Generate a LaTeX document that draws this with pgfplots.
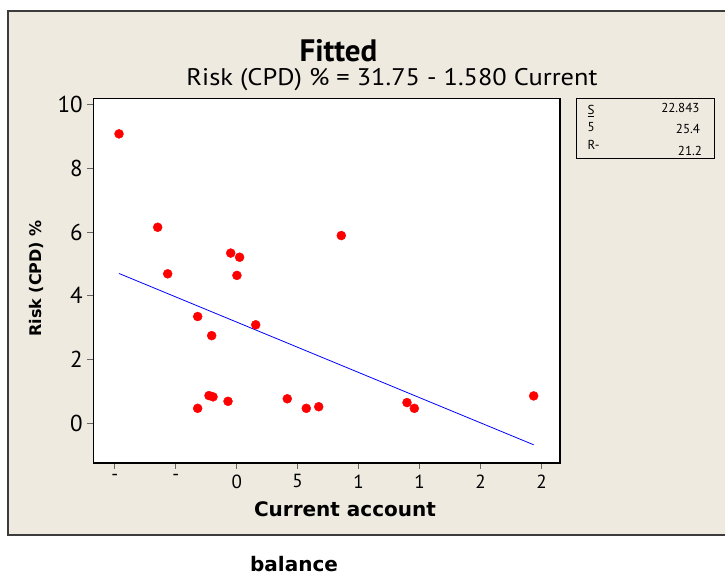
\documentclass[border=0pt]{standalone}
\usepackage{graphicx}
\usepackage{pgfplots}
\pgfplotsset{compat=1.18}
\usepackage{fontspec}
\setmainfont{DejaVu Sans}
\newfontfamily\pts{PT Sans}
\definecolor{bgbeige}{RGB}{238,234,224}
\definecolor{framegrey}{RGB}{60,60,60}
\begin{document}
\begin{tikzpicture}[x=1pt,y=1pt]
\path[use as bounding box] (0,0) rectangle (725,577);
\fill[white] (0,0) rectangle (725,577);
\fill[bgbeige] (7,41) rectangle (725,567);
\draw[framegrey,line width=1.8pt] (7.9,41.9) rectangle (727,566.1);
% titles
\node[font=\pts\bfseries\fontsize{31}{31}\selectfont,anchor=base,inner sep=1pt] at (338.5,515) {Fitted};
\node[font=\pts\fontsize{24}{24}\selectfont,anchor=base,inner sep=1pt] at (392,491) {\scalebox{1.1}[1]{Risk (CPD) \% = 31.75 - 1.580 Current}};
% stats box
\draw[black,line width=0.8pt] (576,419) rectangle (714,479);
\node[font=\pts\fontsize{13}{13}\selectfont,anchor=base west] at (584,462) {\underline{S}};
\node[font=\pts\fontsize{13}{13}\selectfont,anchor=base east] at (703,464) {22.843};
\node[font=\pts\fontsize{13}{13}\selectfont,anchor=base west] at (584,445) {5};
\node[font=\pts\fontsize{13}{13}\selectfont,anchor=base] at (688,443) {25.4};
\node[font=\pts\fontsize{13}{13}\selectfont,anchor=base west] at (584,427) {R-};
\node[font=\pts\fontsize{13}{13}\selectfont,anchor=base] at (690,421) {21.2};
% y label
\node[font=\bfseries\fontsize{16}{16}\selectfont,rotate=90,inner sep=0pt] at (36,298.5) {Risk (CPD) \%};
% x labels
\node[font=\bfseries\fontsize{20}{20}\selectfont,anchor=base] at (345,60) {Current account};
\node[font=\bfseries\fontsize{20}{20}\selectfont,anchor=base] at (294,5) {balance};
\begin{axis}[
  at={(93.3pt,114pt)}, anchor=south west,
  scale only axis, width=466.7pt, height=364.7pt,
  xmin=-11.76, xmax=26.52, ymin=-12.45, ymax=101.96,
  axis background/.style={fill=white},
  axis line style={black,line width=1.2pt},
  xtick={-10,-5,0,5,10,15,20,25},
  xticklabels={-,-,0,5,1,1,2,2},
  ytick={0,20,40,60,80,100},
  yticklabels={0,2,4,6,8,10},
  xtick pos=left, ytick pos=left,
  tick align=outside,
  major tick length=6pt,
  tick style={gray!80!black,line width=0.8pt},
  xticklabel style={font=\pts\fontsize{19}{19}\selectfont,yshift=-2pt},
  yticklabel style={font=\pts\fontsize{23}{23}\selectfont,xshift=-1pt},
  clip=false,
]
\addplot[only marks,mark=*,mark size=4.5pt,color=red,mark options={fill=red,draw=red}] coordinates {
(-9.65,90.8) (-6.48,61.5) (-5.66,46.9) (-3.2,33.5) (-2.05,27.5)
(-3.2,4.7) (-2.27,8.7) (-1.94,8.3) (-0.71,6.9) (-0.49,53.4)
(0.24,52.1) (0.02,46.4) (1.56,30.9) (4.15,7.7) (5.71,4.7)
(6.73,5.2) (8.58,58.9) (13.97,6.5) (14.57,4.7) (24.36,8.6)
};
\addplot[blue,line width=0.8pt] coordinates {(-9.65,47.00) (24.36,-6.74)};
\end{axis}
\end{tikzpicture}
\end{document}
